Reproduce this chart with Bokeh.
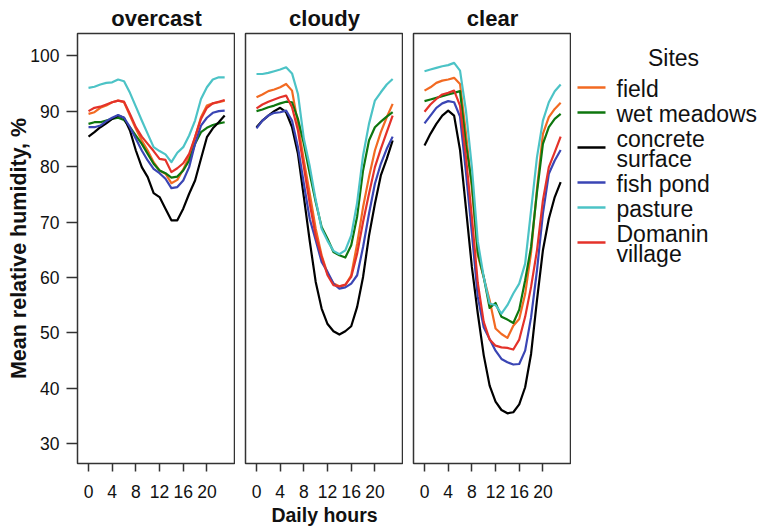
from bokeh.plotting import figure
from bokeh.layouts import row
from bokeh.models import Range1d, FixedTicker, ColumnDataSource
from bokeh.core.properties import value
from bokeh.embed import file_html
from bokeh.resources import INLINE

# ---------------- data ----------------
hours = list(range(24))
conditions = ["overcast", "cloudy", "clear"]
site_labels = ["field", "wet meadows", "concrete\nsurface", "fish pond", "pasture", "Domanin\nvillage"]
site_colors = ["#F26A22", "#0E760E", "#000000", "#3A45B4", "#4CC3C6", "#E4322A"]
x_ticks = [0, 4, 8, 12, 16, 20]
y_ticks = [30, 40, 50, 60, 70, 80, 90, 100]

overcast_field = [89.5, 89.8, 90.6, 91.0, 91.6, 91.9, 91.6, 89.2, 86.8, 84.7, 82.9, 80.8, 79.3, 78.7, 77.0, 77.6, 79.5, 81.8, 85.3, 88.9, 91.0, 91.4, 91.6, 91.9]
overcast_wet_meadows = [87.7, 88.0, 88.0, 88.3, 88.6, 88.8, 88.4, 87.1, 85.6, 84.1, 82.3, 80.5, 79.3, 78.8, 78.0, 78.2, 79.3, 81.1, 84.1, 86.2, 87.0, 87.5, 87.8, 88.0]
overcast_concrete = [85.4, 86.2, 87.1, 87.8, 88.6, 89.2, 88.8, 86.5, 82.9, 79.9, 78.1, 75.2, 74.5, 72.4, 70.3, 70.3, 72.4, 75.1, 77.5, 81.4, 85.3, 86.9, 88.0, 89.2]
overcast_fish_pond = [87.1, 87.1, 87.4, 88.2, 88.8, 89.3, 88.8, 87.1, 85.0, 82.9, 81.1, 79.6, 78.8, 77.8, 76.1, 76.3, 77.5, 79.9, 84.1, 87.4, 88.8, 89.7, 90.0, 90.1]
overcast_pasture = [94.2, 94.4, 94.8, 95.1, 95.2, 95.7, 95.4, 93.3, 90.8, 88.3, 85.9, 83.5, 82.8, 82.2, 80.8, 82.5, 83.5, 85.6, 88.3, 92.2, 94.3, 95.7, 96.1, 96.1]
overcast_domanin = [90.0, 90.6, 90.8, 91.2, 91.6, 91.9, 91.7, 89.5, 87.1, 85.4, 84.1, 82.8, 81.4, 81.2, 79.0, 79.7, 80.6, 82.3, 85.3, 88.6, 90.6, 91.4, 91.7, 92.0]

cloudy_field = [92.5, 93.0, 93.6, 93.9, 94.3, 94.9, 93.7, 87.7, 81.1, 75.1, 68.8, 64.0, 60.7, 58.9, 58.4, 58.6, 60.4, 66.1, 72.7, 78.1, 82.9, 86.2, 88.9, 91.3]
cloudy_wet_meadows = [90.0, 90.3, 90.7, 91.0, 91.4, 91.7, 91.6, 88.6, 84.1, 78.7, 73.6, 69.1, 67.0, 64.6, 64.0, 63.6, 65.8, 71.0, 79.3, 84.7, 87.1, 88.1, 89.0, 89.8]
cloudy_concrete = [87.1, 88.3, 89.2, 90.0, 90.6, 89.8, 87.1, 82.3, 74.5, 66.5, 59.2, 54.4, 51.6, 50.3, 49.7, 50.3, 51.2, 54.7, 60.1, 67.5, 73.3, 78.4, 81.4, 84.7]
cloudy_fish_pond = [86.9, 88.3, 89.2, 89.7, 89.8, 90.1, 88.3, 83.5, 76.9, 70.5, 66.7, 62.8, 61.0, 58.9, 58.0, 58.2, 58.9, 60.4, 65.5, 71.5, 76.9, 80.5, 83.2, 85.4]
cloudy_pasture = [96.7, 96.7, 96.9, 97.2, 97.5, 97.9, 96.8, 93.1, 85.0, 80.0, 74.0, 68.8, 66.6, 64.8, 64.2, 64.9, 67.6, 73.5, 82.0, 87.7, 91.9, 93.4, 94.8, 95.8]
cloudy_domanin = [90.5, 91.2, 91.7, 92.1, 92.5, 92.8, 90.7, 86.5, 79.9, 73.3, 67.5, 63.7, 60.4, 58.6, 58.4, 58.7, 60.1, 64.3, 70.0, 75.1, 79.9, 83.2, 86.2, 89.2]

clear_field = [93.7, 94.3, 95.1, 95.5, 95.7, 96.0, 94.9, 86.0, 76.0, 64.0, 60.0, 55.9, 50.8, 49.8, 49.1, 51.3, 52.5, 57.0, 64.5, 76.0, 85.9, 88.9, 90.4, 91.5]
clear_wet_meadows = [91.8, 92.1, 92.4, 92.7, 93.0, 93.3, 93.6, 84.0, 77.0, 64.5, 60.1, 54.5, 55.4, 52.9, 52.4, 51.8, 54.2, 59.5, 65.5, 75.4, 84.1, 87.1, 88.6, 89.5]
clear_concrete = [83.8, 85.9, 87.7, 89.2, 90.1, 89.2, 83.0, 72.5, 61.9, 53.5, 46.0, 40.5, 37.6, 36.1, 35.5, 35.7, 37.1, 40.2, 46.2, 55.9, 64.9, 70.6, 74.5, 77.2]
clear_fish_pond = [87.8, 89.2, 90.6, 91.4, 91.8, 91.6, 89.0, 79.0, 68.0, 56.5, 51.0, 48.9, 46.8, 45.3, 44.7, 44.3, 44.4, 46.8, 52.8, 61.3, 71.5, 78.7, 81.1, 83.0]
clear_pasture = [97.2, 97.5, 97.8, 98.1, 98.3, 98.7, 97.3, 90.1, 79.9, 66.5, 60.1, 55.3, 55.0, 53.5, 55.0, 57.1, 58.9, 62.5, 72.1, 81.7, 88.3, 91.6, 93.6, 94.8]
clear_domanin = [89.9, 91.2, 92.2, 93.0, 93.3, 93.7, 91.0, 81.7, 70.9, 59.0, 52.0, 48.8, 47.7, 47.4, 47.3, 47.0, 48.8, 52.9, 58.3, 64.9, 73.9, 79.9, 82.6, 85.4]

data = {
    "overcast": [overcast_field, overcast_wet_meadows, overcast_concrete,
                 overcast_fish_pond, overcast_pasture, overcast_domanin],
    "cloudy": [cloudy_field, cloudy_wet_meadows, cloudy_concrete,
               cloudy_fish_pond, cloudy_pasture, cloudy_domanin],
    "clear": [clear_field, clear_wet_meadows, clear_concrete,
              clear_fish_pond, clear_pasture, clear_domanin],
}

# ---------------- styling ----------------
FONT = "Liberation Sans"
FRAME_W, FRAME_H = 158, 430
TOP, BOTTOM = 33, 63
X_RANGE = (-1.86, 24.83)
Y_RANGE = (26.45, 104.0)
AXIS_COL = "#333333"
TEXT_COL = "#111111"


def make_panel(cond, left_border, show_y, xlabel):
    p = figure(frame_width=FRAME_W, frame_height=FRAME_H,
               min_border_left=left_border, min_border_right=0,
               min_border_top=TOP, min_border_bottom=BOTTOM,
               x_range=Range1d(*X_RANGE), y_range=Range1d(*Y_RANGE),
               title=cond, output_backend="svg", toolbar_location=None)
    p.title.align = "center"
    p.title.text_font = FONT
    p.title.text_font_size = "22px"
    p.title.text_font_style = "bold"
    p.title.text_color = TEXT_COL
    p.title.standoff = 5
    p.outline_line_color = AXIS_COL
    p.outline_line_width = 1.5
    p.grid.visible = False
    p.background_fill_color = "white"
    p.border_fill_color = "white"

    for ax in p.axis:
        ax.axis_line_color = None
        ax.major_tick_in = 0
        ax.minor_tick_in = 0
        ax.minor_tick_out = 0
        ax.major_tick_line_color = AXIS_COL
        ax.major_tick_line_width = 1.5
        ax.major_label_text_font = FONT
        ax.major_label_text_font_size = "17.5px"
        ax.major_label_text_color = TEXT_COL
        ax.axis_label_text_font = FONT
        ax.axis_label_text_font_style = "bold"
        ax.axis_label_text_color = TEXT_COL

    p.xaxis.ticker = FixedTicker(ticks=x_ticks)
    p.xaxis.major_tick_out = 8
    p.xaxis.major_label_standoff = 13
    if xlabel:
        p.xaxis.axis_label = xlabel
        p.xaxis.axis_label_text_font_size = "19.5px"
        p.xaxis.axis_label_standoff = 3

    p.yaxis.ticker = FixedTicker(ticks=y_ticks)
    p.yaxis.major_tick_out = 11
    p.yaxis.major_label_standoff = 7
    if show_y:
        p.yaxis.axis_label = "Mean relative humidity, %"
        p.yaxis.axis_label_text_font_size = "21.5px"
        p.yaxis.axis_label_standoff = -4
    else:
        p.yaxis.visible = False

    for series, color in zip(data[cond], site_colors):
        src = ColumnDataSource(dict(hour=hours, rh=series))
        p.line("hour", "rh", source=src, line_color=color, line_width=2.2,
               line_join="round")
    return p


p1 = make_panel("overcast", 77, True, None)
p2 = make_panel("cloudy", 10, False, "Daily hours")
p3 = make_panel("clear", 10, False, None)

# ---------------- legend panel (frame aligned with the panels) ----------------
LEG_W = 186
pl = figure(frame_width=LEG_W, frame_height=FRAME_H,
            min_border_left=0, min_border_right=0,
            min_border_top=TOP, min_border_bottom=BOTTOM,
            x_range=Range1d(0, LEG_W), y_range=Range1d(TOP + FRAME_H, TOP),
            output_backend="svg", toolbar_location=None)
pl.axis.visible = False
pl.grid.visible = False
pl.outline_line_color = None

line_counts = [lab.count("\n") + 1 for lab in site_labels]
item_h, item_gap, first_y = 20, 5, 87
centers = []
prev_c, prev_h = None, None
for n in line_counts:
    h = item_h * n
    c = first_y if prev_c is None else prev_c + prev_h / 2 + item_gap + h / 2
    centers.append(c)
    prev_c, prev_h = c, h
text_y = [c + 1.5 for c in centers]

n_items = len(site_labels)
leg = ColumnDataSource(dict(x0=[6] * n_items, x1=[34] * n_items,
                            xt=[45] * n_items, y=centers, ty=text_y,
                            color=site_colors, label=site_labels))
pl.segment("x0", "y", "x1", "y", source=leg, line_color="color", line_width=2.5)
pl.text("xt", "ty", text="label", source=leg, text_font=value(FONT),
        text_font_size="23px", text_baseline="middle", text_align="left",
        text_line_height=0.74, text_color=TEXT_COL)
pl.text(x=[102], y=[57], text=["Sites"], text_font=value(FONT),
        text_font_size="23px", text_baseline="middle", text_align="center",
        text_color=TEXT_COL)

layout = row(p1, p2, p3, pl, spacing=0)
open("out.html", "w").write(file_html(layout, INLINE))
